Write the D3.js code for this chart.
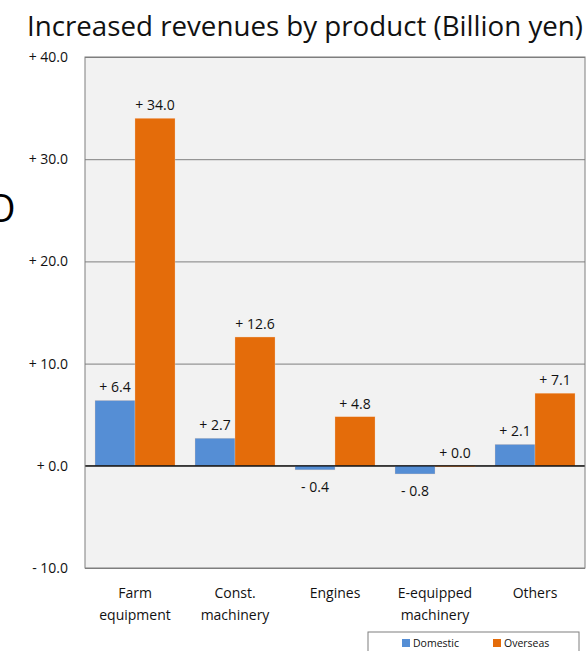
<!DOCTYPE html>
<html><head><meta charset="utf-8">
<script src="https://cdn.jsdelivr.net/npm/d3@7"></script>
<style>
body{margin:0;background:#fff;}
svg{display:block;font-family:"Open Sans","Noto Sans",sans-serif;}
</style></head>
<body><svg id="c" width="587" height="651"></svg>
<script>
const categories = [["Farm","equipment"],["Const.","machinery"],["Engines"],["E-equipped","machinery"],["Others"]];
const domestic = [6.4, 2.7, -0.4, -0.8, 2.1];
const overseas = [34.0, 12.6, 4.8, 0.0, 7.1];
const seriesNames = ["Domestic","Overseas"];
const yTicks = [-10, 0, 10, 20, 30, 40];
const titleText = "Increased revenues by product (Billion yen)";

const colors = ["#558ED5","#E46C0A"];
const svg = d3.select("#c");
const m = {l:85, r:2, t:57, b:83};
const W = 587, H = 651;
const pw = W - m.l - m.r, ph = H - m.t - m.b;

const fmt = v => (v < 0 ? "- " : "+ ") + Math.abs(v).toFixed(1);

// stray partial glyph at the left edge
svg.append("text").attr("x", -14).attr("y", 222).attr("font-size", 38).attr("fill","#000").text("O");

// title
svg.append("text").attr("x", 27).attr("y", 36).attr("font-size", 27).attr("fill","#111")
  .attr("textLength", 556).attr("lengthAdjust","spacingAndGlyphs").text(titleText);

const x0 = d3.scaleBand().domain(d3.range(categories.length)).range([0, pw]).paddingInner(0.2).paddingOuter(0.1);
const x1 = d3.scaleBand().domain([0,1]).range([0, x0.bandwidth()]);
const y = d3.scaleLinear().domain([-10, 40]).range([ph, 0]);

const g = svg.append("g").attr("transform", `translate(${m.l},${m.t})`);
g.append("rect").attr("width", pw).attr("height", ph).attr("fill", "#f2f2f2");

// gridlines
g.append("g").call(d3.axisLeft(y).tickValues(yTicks).tickSize(-pw).tickFormat(""))
  .call(a => a.select(".domain").remove())
  .call(a => a.selectAll("line").attr("stroke", "#7f7f7f").attr("stroke-width", 1));

// y labels
g.append("g").call(d3.axisLeft(y).tickValues(yTicks).tickSize(0).tickPadding(17).tickFormat(fmt))
  .call(a => a.select(".domain").remove())
  .call(a => a.selectAll("text").attr("font-size", 14).attr("fill", "#111").attr("font-family", '"Open Sans",sans-serif'));

// bars
const data = categories.map((c, i) => [domestic[i], overseas[i]]);
const groups = g.selectAll(".grp").data(data).join("g").attr("transform", (d, i) => `translate(${x0(i)},0)`);
groups.selectAll("rect").data(d => d).join("rect")
  .attr("x", (d, j) => x1(j))
  .attr("width", x1.bandwidth())
  .attr("y", d => y(Math.max(0, d)))
  .attr("height", d => Math.max(Math.abs(y(d) - y(0)), 1))
  .attr("fill", (d, j) => colors[j])
  .attr("stroke", "#f8d0b0").attr("stroke-width", 0.5).attr("stroke-opacity", 0.6);

groups.selectAll("text.lab").data(d => d).join("text").attr("class", "lab")
  .attr("x", (d, j) => x1(j) + x1.bandwidth() / 2)
  .attr("y", d => d < 0 ? y(d) + 22 : y(d) - 8)
  .attr("text-anchor", "middle").attr("font-size", 14).attr("fill", "#111")
  .text(fmt);

// zero line
g.append("line").attr("x1", 0).attr("x2", pw).attr("y1", y(0)).attr("y2", y(0)).attr("stroke", "#000").attr("stroke-width", 1.2);

// border
g.append("rect").attr("width", pw).attr("height", ph).attr("fill", "none").attr("stroke", "#7f7f7f");

// category labels
const cl = g.append("g").selectAll("text").data(categories).join("text")
  .attr("x", (d, i) => x0(i) + x0.bandwidth() / 2)
  .attr("y", ph + 30).attr("text-anchor", "middle").attr("font-size", 14).attr("fill", "#111");
cl.selectAll("tspan").data(d => d).join("tspan")
  .attr("x", function(){ return this.parentNode.getAttribute("x"); })
  .attr("dy", (d, k) => k === 0 ? 0 : 22).text(d => d);

// legend
const lg = svg.append("g").attr("transform", "translate(368,632)");
lg.append("rect").attr("width", 211).attr("height", 30).attr("fill", "#fff").attr("stroke", "#7f7f7f");
const li = lg.selectAll("g").data(seriesNames).join("g").attr("transform", (d, i) => `translate(${34 + i * 91},7)`);
li.append("rect").attr("width", 8).attr("height", 8).attr("fill", (d, i) => colors[i]);
li.append("text").attr("x", 11).attr("y", 8).attr("font-size", 10.5).attr("fill", "#111").text(d => d);
</script></body></html>
